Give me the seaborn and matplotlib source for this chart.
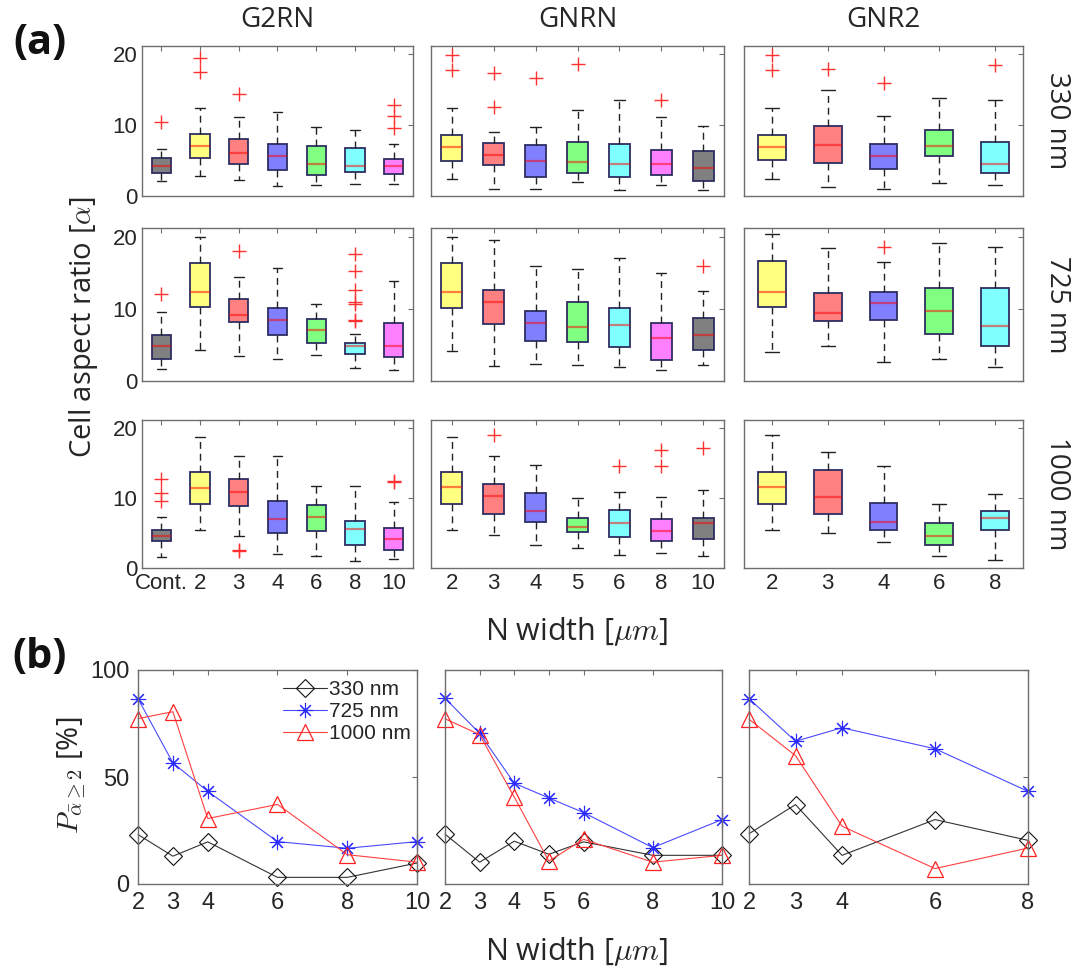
import matplotlib
matplotlib.use("Agg")
import matplotlib.pyplot as plt
import seaborn as sns

# ---------------- data: panel (a) box statistics (whislo, q1, med, q3, whishi) ----------------
labels_g2rn = ["Cont.", "2", "3", "4", "6", "8", "10"]
labels_gnrn = ["2", "3", "4", "5", "6", "8", "10"]
labels_gnr2 = ["2", "3", "4", "6", "8"]

g2rn_330 = [(2.1, 3.25, 4.3, 5.4, 6.6), (2.8, 5.4, 7.1, 8.8, 12.5), (2.2, 4.5, 6.1, 8.1, 11.2),
            (1.4, 3.7, 5.6, 7.4, 11.9), (1.5, 3.0, 4.5, 7.0, 9.7), (1.7, 3.35, 4.25, 6.8, 9.3),
            (1.75, 3.15, 4.3, 5.3, 7.3)]
g2rn_330_fl = [[10.4], [19.5, 17.5], [14.4], [], [], [], [12.9, 11.3, 9.6]]

gnrn_330 = [(2.4, 5.0, 6.9, 8.65, 12.5), (1.0, 4.4, 5.8, 7.5, 9.1), (1.0, 2.7, 5.0, 7.2, 9.7),
            (1.95, 3.2, 4.8, 7.6, 12.2), (0.85, 2.75, 4.55, 7.35, 13.5), (1.5, 3.0, 4.55, 6.5, 11.1),
            (0.85, 2.15, 3.9, 6.4, 9.9)]
gnrn_330_fl = [[19.9, 17.8], [17.4, 12.6], [16.7], [18.7], [], [13.5], []]

gnr2_330 = [(2.4, 5.05, 6.9, 8.65, 12.5), (1.25, 4.6, 7.15, 9.85, 15.0), (0.95, 3.75, 5.6, 7.3, 11.35),
            (1.8, 5.7, 7.0, 9.35, 13.8), (1.6, 3.3, 4.5, 7.7, 13.6)]
gnr2_330_fl = [[19.9, 17.8], [17.9], [15.9], [], [18.5]]

g2rn_725 = [(1.7, 3.1, 4.8, 6.35, 9.6), (4.3, 10.3, 12.3, 16.3, 19.9), (3.5, 8.2, 9.1, 11.4, 14.4),
            (3.0, 6.4, 8.4, 10.1, 15.7), (3.55, 5.3, 7.1, 8.55, 10.6), (1.75, 3.75, 4.9, 5.25, 6.5),
            (1.55, 3.3, 4.8, 8.1, 13.9)]
g2rn_725_fl = [[12.0], [], [18.0], [], [], [17.6, 15.2, 12.6, 11.0, 10.7, 8.4, 8.3], []]

gnrn_725 = [(4.1, 10.1, 12.3, 16.3, 20.0), (2.05, 7.85, 10.9, 12.6, 19.6), (2.35, 5.5, 8.1, 9.7, 15.95),
            (2.2, 5.35, 7.5, 10.9, 15.45), (1.95, 4.75, 7.7, 10.05, 17.0), (1.5, 2.95, 6.0, 8.0, 14.9),
            (2.25, 4.3, 6.4, 8.75, 12.45)]
gnrn_725_fl = [[], [], [], [], [], [], [15.9]]

gnr2_725 = [(4.0, 10.2, 12.4, 16.6, 20.4), (4.85, 8.3, 9.45, 12.2, 18.4), (2.6, 8.45, 10.8, 12.35, 16.5),
            (3.0, 6.55, 9.7, 12.85, 19.1), (1.95, 4.9, 7.6, 12.85, 18.6)]
gnr2_725_fl = [[], [], [18.6], [], []]

g2rn_1000 = [(1.6, 3.8, 4.6, 5.45, 7.35), (5.45, 9.1, 11.45, 13.7, 18.8), (4.6, 8.9, 10.9, 12.7, 16.1),
             (2.0, 5.0, 7.0, 9.6, 16.1), (1.7, 5.3, 7.3, 9.0, 11.8), (1.0, 3.3, 5.65, 6.75, 11.7),
             (1.3, 2.6, 4.2, 5.7, 9.5)]
g2rn_1000_fl = [[12.8, 10.75, 9.6], [], [2.6, 2.4], [], [], [], [12.5, 12.3]]

gnrn_1000 = [(5.4, 9.2, 11.6, 13.7, 18.8), (4.7, 7.8, 10.3, 12.0, 16.1), (3.3, 6.6, 8.1, 10.8, 14.8),
             (2.9, 5.2, 5.9, 7.2, 10.0), (1.8, 4.4, 6.4, 8.3, 10.9), (2.2, 3.9, 5.3, 7.0, 10.2),
             (1.7, 4.1, 6.5, 7.2, 11.2)]
gnrn_1000_fl = [[], [19.1], [], [], [14.6], [16.9, 14.6], [17.2]]

gnr2_1000 = [(5.4, 9.2, 11.6, 13.8, 19.0), (5.0, 7.7, 10.2, 14.1, 16.6), (3.7, 5.4, 6.6, 9.3, 14.6),
             (1.7, 3.3, 4.6, 6.4, 9.1), (1.2, 5.5, 7.2, 8.2, 10.6)]
gnr2_1000_fl = [[], [], [], [], []]

# ---------------- data: panel (b) percentages ----------------
w_g2rn = [2, 3, 4, 6, 8, 10]
w_gnrn = [2, 3, 4, 5, 6, 8, 10]
w_gnr2 = [2, 3, 4, 6, 8]

p_g2rn_330 = [23.1, 13.0, 19.7, 3.1, 3.1, 9.8]
p_g2rn_725 = [86.6, 56.6, 43.3, 19.8, 16.7, 19.8]
p_g2rn_1000 = [77.3, 80.5, 30.6, 37.2, 13.7, 10.2]

p_gnrn_330 = [23.3, 10.2, 20.0, 13.9, 19.7, 13.4, 13.4]
p_gnrn_725 = [86.8, 70.4, 47.1, 40.2, 33.4, 17.0, 30.1]
p_gnrn_1000 = [77.2, 69.8, 40.6, 10.7, 20.9, 10.2, 13.4]

p_gnr2_330 = [23.5, 37.1, 13.4, 30.1, 20.4]
p_gnr2_725 = [86.6, 66.7, 73.0, 63.2, 43.3]
p_gnr2_1000 = [77.0, 60.0, 27.0, 7.2, 16.8]

col_titles = ["G2RN", "GNRN", "GNR2"]
row_titles = ["330 nm", "725 nm", "1000 nm"]

# ---------------- style ----------------
sns.set_theme(style="white")
plt.rcParams['font.family'] = ['Liberation Sans', 'DejaVu Sans']
plt.rcParams['mathtext.fontset'] = 'cm'
LBL = ['Open Sans', 'DejaVu Sans']
AXC = '#6e6e6e'
TXC = '#262626'

W, H = 1079, 973
fig = plt.figure(figsize=(W / 100, H / 100), dpi=100)


def ax_at(l, r, t, b):
    return fig.add_axes([l / W, 1 - b / H, (r - l) / W, (b - t) / H])


def style_axes(ax):
    for s in ax.spines.values():
        s.set_color(AXC)
        s.set_linewidth(1.0)
    ax.tick_params(direction='in', top=True, right=True, length=3.5, width=0.8,
                   color=AXC, labelcolor=TXC)


pal = ['#ffff80', '#ff8080', '#8080ff', '#80ff80', '#80ffff', '#ff80ff', '#808080']
fills = [['#808080'] + pal[:6], pal[:7], pal[:5]]
labels = [labels_g2rn, labels_gnrn, labels_gnr2]
panels = [[g2rn_330, gnrn_330, gnr2_330], [g2rn_725, gnrn_725, gnr2_725], [g2rn_1000, gnrn_1000, gnr2_1000]]
fliers = [[g2rn_330_fl, gnrn_330_fl, gnr2_330_fl], [g2rn_725_fl, gnrn_725_fl, gnr2_725_fl],
          [g2rn_1000_fl, gnrn_1000_fl, gnr2_1000_fl]]

cols_x = [(142, 413), (431, 724), (744, 1023)]
rows_y = [(46, 196), (228, 381), (420, 568)]

for r in range(3):
    for c in range(3):
        ax = ax_at(cols_x[c][0], cols_x[c][1], rows_y[r][0], rows_y[r][1])
        data = panels[r][c]
        stats = []
        for (lo, q1, med, q3, hi), fl in zip(data, fliers[r][c]):
            stats.append(dict(whislo=lo, q1=q1, med=med, q3=q3, whishi=hi, fliers=fl))
        n = len(stats)
        bp = ax.bxp(stats, positions=list(range(1, n + 1)), widths=0.5, capwidths=0.25,
                    patch_artist=True, showfliers=True,
                    boxprops=dict(edgecolor='#2e2e62', linewidth=1.3),
                    whiskerprops=dict(color='#222222', linestyle=(0, (5, 3.5)), linewidth=1.0),
                    capprops=dict(color='#222222', linewidth=1.0),
                    medianprops=dict(color='red', alpha=0.5, linewidth=1.6),
                    flierprops=dict(marker='+', markeredgecolor='#ff3030', markersize=10,
                                    markeredgewidth=1.0, linestyle='none'))
        for patch, fc in zip(bp['boxes'], fills[c]):
            patch.set_facecolor(fc)
        ax.set_xlim(0.5, n + 0.5)
        ax.set_ylim(0, 21.2)
        ax.set_yticks([0, 10, 20])
        ax.set_xticks(list(range(1, n + 1)))
        style_axes(ax)
        ax.tick_params(labelsize=16)
        if c == 0:
            ax.set_yticklabels(['0', '10', '20'])
        else:
            ax.set_yticklabels([])
        if r == 2:
            ax.set_xticklabels(labels[c])
        else:
            ax.set_xticklabels([])

# column / row titles
for c, t in enumerate(col_titles):
    cx = (cols_x[c][0] + cols_x[c][1]) / 2
    fig.text(cx / W, 1 - 20 / H, t, ha='center', va='center', fontsize=20, family=LBL, color=TXC)
for r, t in enumerate(row_titles):
    cy = (rows_y[r][0] + rows_y[r][1]) / 2
    fig.text(1057 / W, 1 - cy / H, t, ha='center', va='center', rotation=-90, fontsize=20,
             family=LBL, color=TXC)

fig.text(84 / W, 1 - 327 / H, r'Cell aspect ratio [$\alpha$]', ha='center', va='center', rotation=90,
         fontsize=21, family=LBL, color=TXC)
fig.text(577 / W, 1 - 632 / H, r'N width [$\mu m$]', ha='center', va='center', fontsize=22,
         family=LBL, color=TXC)
fig.text(40 / W, 1 - 44 / H, '(a)', ha='center', va='center', fontsize=30, fontweight='bold',
         family=LBL, color='#111111')
fig.text(40 / W, 1 - 658 / H, '(b)', ha='center', va='center', fontsize=30, fontweight='bold',
         family=LBL, color='#111111')

# ---------------- panel (b) ----------------
bx = [(138, 417), (445, 722), (749, 1028)]
b_widths = [w_g2rn, w_gnrn, w_gnr2]
b_330 = [p_g2rn_330, p_gnrn_330, p_gnr2_330]
b_725 = [p_g2rn_725, p_gnrn_725, p_gnr2_725]
b_1000 = [p_g2rn_1000, p_gnrn_1000, p_gnr2_1000]

for c in range(3):
    ax = ax_at(bx[c][0], bx[c][1], 670, 884)
    x = b_widths[c]
    sns.lineplot(x=x, y=b_330[c], ax=ax, color='#333333', marker='D', markersize=9,
                 markerfacecolor='none', markeredgecolor='#111111', markeredgewidth=0.8,
                 linewidth=0.8, label='330 nm', legend=False, clip_on=False)
    sns.lineplot(x=x, y=b_725[c], ax=ax, color='#4a4aff', marker=(8, 2, 0), markersize=11,
                 markerfacecolor='none', markeredgecolor='#2a2aff', markeredgewidth=0.8,
                 linewidth=0.8, label='725 nm', legend=False, clip_on=False)
    sns.lineplot(x=x, y=b_1000[c], ax=ax, color='#ff4040', marker='^', markersize=11,
                 markerfacecolor='none', markeredgecolor='#ff2020', markeredgewidth=0.9,
                 linewidth=0.8, label='1000 nm', legend=False, clip_on=False)
    ax.set_xlim(x[0], x[-1])
    ax.set_ylim(0, 100)
    ax.set_xticks(x)
    ax.set_yticks([0, 50, 100])
    ax.set_xlabel('')
    ax.set_ylabel('')
    style_axes(ax)
    ax.tick_params(labelsize=17, pad=6)
    if c != 0:
        ax.set_yticklabels([])
    else:
        ax.legend(loc='upper left', bbox_to_anchor=(283 / W, 1 - 680 / H), bbox_transform=fig.transFigure,
                  frameon=False, fontsize=15, handlelength=2.1, handletextpad=0.1,
                  labelspacing=0.15, borderpad=0, borderaxespad=0)

fig.text(72 / W, 1 - 775 / H, r'$P_{\bar{\alpha}\geq 2}$ [%]', ha='center', va='center', rotation=90,
         fontsize=21, family=LBL, color=TXC)
fig.text(577 / W, 1 - 951 / H, r'N width [$\mu m$]', ha='center', va='center', fontsize=22,
         family=LBL, color=TXC)

fig.savefig('out.png', dpi=100, facecolor='white')
